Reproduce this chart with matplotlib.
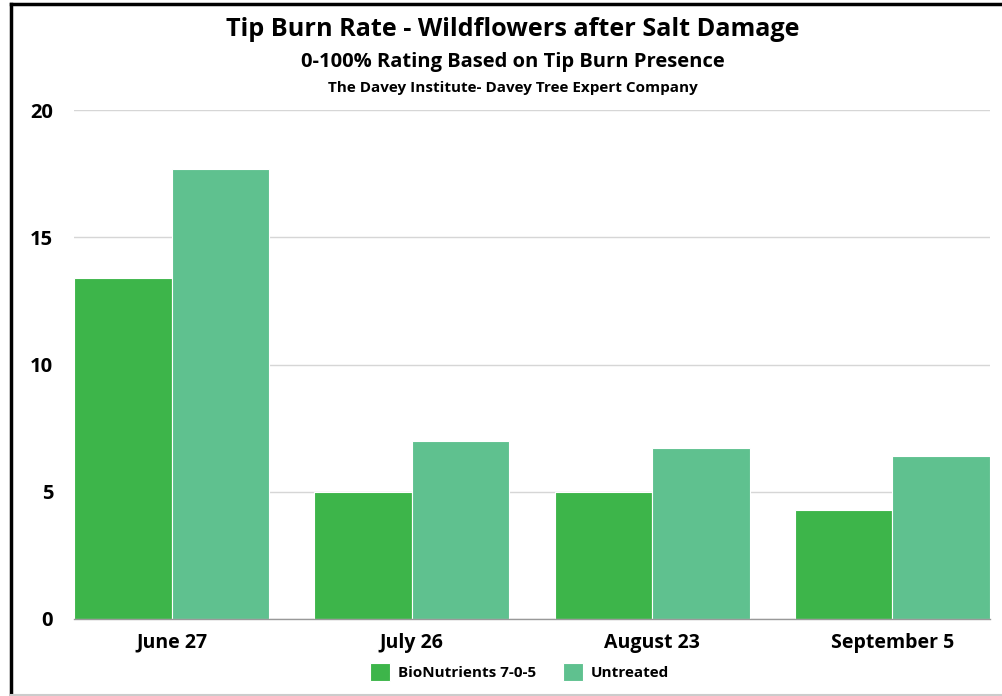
import matplotlib
matplotlib.use("Agg")
import matplotlib.pyplot as plt
import numpy as np
from matplotlib.lines import Line2D

categories = ["June 27", "July 26", "August 23", "September 5"]
bionutrients = [13.4, 5.0, 5.0, 4.3]
untreated = [17.7, 7.0, 6.7, 6.4]
series_names = ["BioNutrients 7-0-5", "Untreated"]
yticks = [0, 5, 10, 15, 20]

c_bio = "#3db54a"
c_unt = "#5fc18f"

plt.rcParams['font.family'] = ['Open Sans', 'DejaVu Sans']

W, H = 1003, 696
fig = plt.figure(figsize=(W/100, H/100), dpi=100)
ax = fig.add_axes([74/W, 1-619/H, (990-74)/W, (619-110)/H])

x = np.arange(len(categories))
bw = 0.406
ax.bar(x - bw/2, bionutrients, bw, color=c_bio, edgecolor="white", linewidth=0.8, label=series_names[0], zorder=3)
ax.bar(x + bw/2, untreated, bw, color=c_unt, edgecolor="white", linewidth=0.8, label=series_names[1], zorder=3)

ax.set_xlim(-bw, len(categories) - 1 + bw)
ax.set_ylim(0, 20)
ax.set_yticks(yticks)
ax.set_yticklabels([str(v) for v in yticks], fontsize=14.5, fontweight="bold")
ax.set_xticks(x)
ax.set_xticklabels(categories, fontsize=14, fontweight="bold")
ax.tick_params(axis="both", length=0)
ax.tick_params(axis="y", pad=15)
ax.tick_params(axis="x", pad=10)
ax.grid(axis="y", color="#d6d6d6", linewidth=1, zorder=0)
for s in ["top", "right", "left"]:
    ax.spines[s].set_visible(False)
ax.spines["bottom"].set_color("#999999")
ax.spines["bottom"].set_linewidth(1)
ax.spines["bottom"].set_zorder(4)

fig.text(513/W, 1-29/H, "Tip Burn Rate - Wildflowers after Salt Damage", ha="center", va="center",
         fontsize=18.2, fontweight="bold")
fig.text(513/W, 1-62/H, "0-100% Rating Based on Tip Burn Presence", ha="center", va="center",
         fontsize=14.5, fontweight="bold")
fig.text(513/W, 1-88/H, "The Davey Institute- Davey Tree Expert Company", ha="center", va="center",
         fontsize=11, fontweight="bold")

leg = fig.legend(loc="center", bbox_to_anchor=(519.5/W, 1-672/H), ncol=2, frameon=False,
                 prop={"size": 11, "weight": "bold"}, handlelength=1.35, handleheight=1.35,
                 columnspacing=1.75, handletextpad=0.5)

# figure border
fig.add_artist(Line2D([11/W, 11/W], [1-4/H, 1-694/H], color="black", linewidth=2.5, transform=fig.transFigure))
fig.add_artist(Line2D([11/W, 1.0], [1-4/H, 1-4/H], color="black", linewidth=2.5, transform=fig.transFigure))
fig.add_artist(Line2D([11/W, 1.0], [1-694.5/H, 1-694.5/H], color="#cccccc", linewidth=1.5, transform=fig.transFigure))

fig.savefig("out.png", dpi=100, facecolor="white")
